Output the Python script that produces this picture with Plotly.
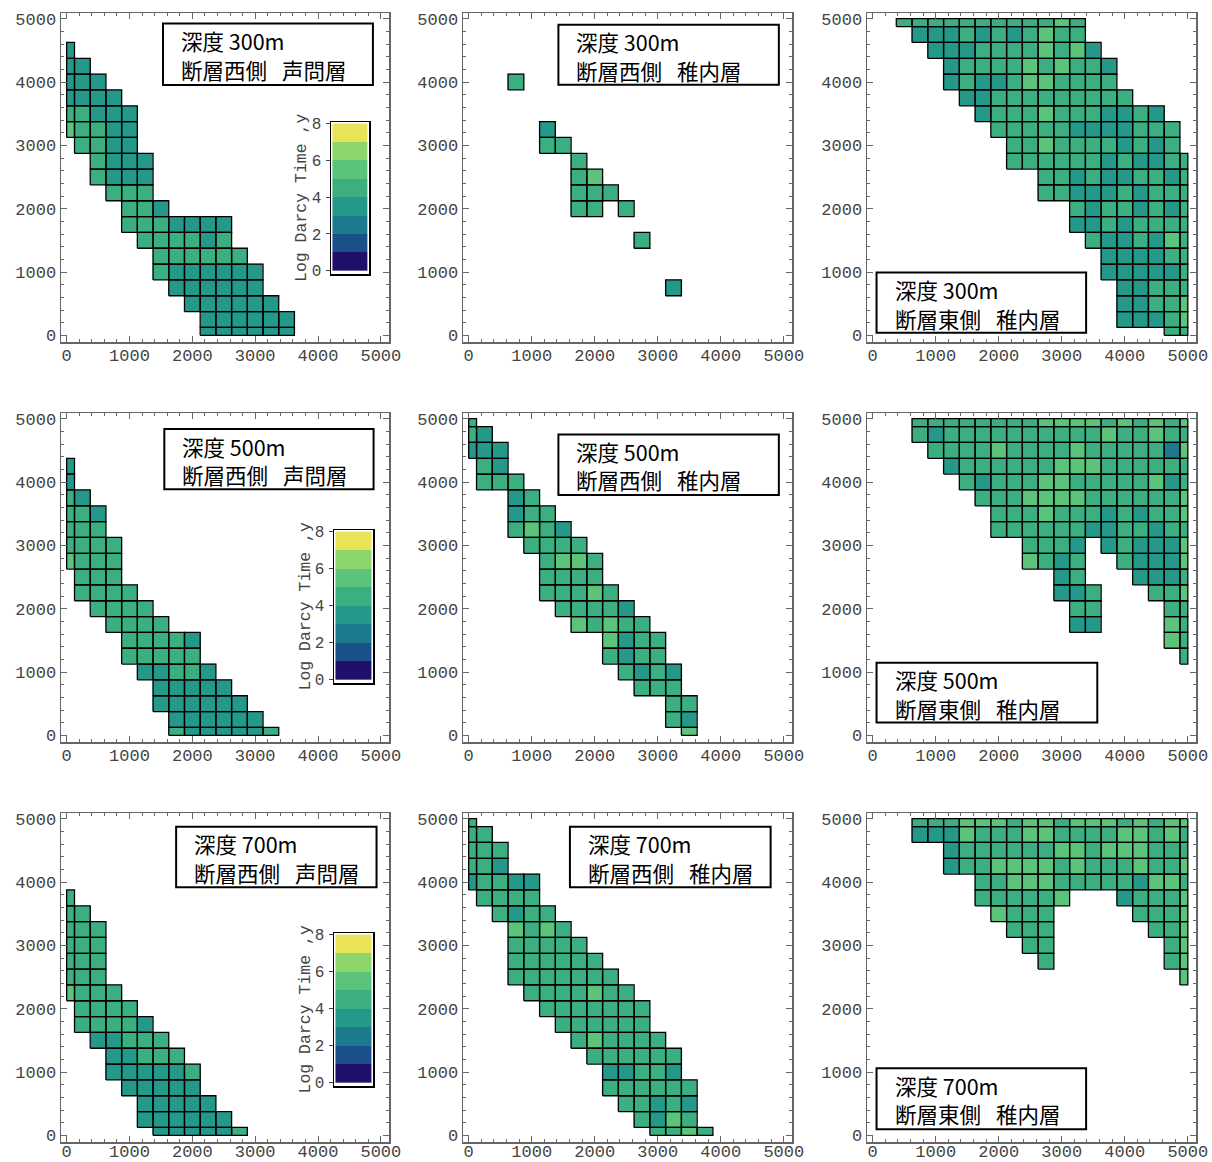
import plotly.graph_objects as go

W, H = 1212, 1162

# ------------------------------------------------------------------ data
row_depths = ["300m", "500m", "700m"]
col_sides = ["断層西側", "断層西側", "断層東側"]
col_formations = ["声問層", "稚内層", "稚内層"]

# cell centres of the 250 m grid (m), used for both x and y
cell_centers = [0, 250, 500, 750, 1000, 1250, 1500, 1750, 2000, 2250, 2500,
                2750, 3000, 3250, 3500, 3750, 4000, 4250, 4500, 4750, 5000]
axis_ticks = [0, 1000, 2000, 3000, 4000, 5000]

# Log Darcy Time bands (y) and their colours
band_edges = [0, 1, 2, 3, 4, 5, 6, 7, 8]
band_colors = ["#21106b", "#1a4f8a", "#1c7a8c", "#24998a",
               "#3caf80", "#5bc47a", "#8dd66c", "#e9e457"]
colorbar_ticks = [0, 2, 4, 6, 8]

# grids: one string per row, top row (y=5000) first, one char per column (x=0..5000)
# digit = Log Darcy Time band ('.' = no cell)
grid_300_w_seimon = [
    "", "", "3", "33", "333", "3333", "44333", "54433", ".4433", "..4333",
    "..4333", "...444", "....443", "....4443333", ".....444434",
    "......444444", "......4333333", ".......333333", "........333333",
    ".........333333", ".........333333",
]
grid_300_w_wakkanai = [
    "", "", "", "", "...4", "", "", ".....3", ".....44", ".......4",
    ".......45", ".......444", ".......44.4", "", "...........4", "", "",
    ".............3", "", "", "",
]
grid_300_e_wakkanai = [
    "..444444444454", "...33343434544", "....33344445453", ".....34444545443",
    ".....34334554444", "......33444444444", ".......344454443343",
    "........444443333444", ".........44544443434", ".........444444343344",
    "...........4434334434", "...........4433343444", ".............43443434",
    ".............33434444", "..............4334354", "...............333344",
    "...............333334", "................33444", "................33445",
    "................33345", "...................44",
]
grid_500_w_seimon = [
    "", "", "", "3", "3", "43", "443", "444", "4444", "5444", ".444", ".4444",
    "..4444", "...4444", "....44443", "....44444", ".....33443", "......33333",
    "......333333", ".......333333", ".......4333334",
]
grid_500_w_wakkanai = [
    "4", "43", "333", ".43", ".444", "...34", "...344", "...4543", "....4444",
    ".....4554", ".....4444", ".....44454", "......44443", ".......54544",
    ".........5344", ".........4344", "..........4343", "...........444",
    ".............44", ".............43", "..............5",
]
grid_500_e_wakkanai = [
    "...444444445555454545", "...434444444444544544", "....44445444454444425",
    ".....3444444555444444", "......434445544444534", ".......44455554444445",
    "........4445444343445", "........4444443344344", "..........4443.343335",
    "..........5434..43335", "............34...3334", "............334...445",
    ".............44....44", ".............33....54", "...................54",
    "....................4", "", "", "", "", "",
]
grid_700_w_seimon = [
    "", "", "", "", "", "4", "44", "444", "444", "444", "444", "5444", ".4444",
    ".44443", "..33444", "...33444", "...333334", "....33333", ".....33333",
    ".....333333", "......333334",
]
grid_700_w_wakkanai = [
    "4", "44", "444", "443", "34433", ".4444", "..4344", "...5454", "...44444",
    "...444444", "...4444444", "....4444544", ".....4444444", "......444444",
    ".......454444", "........444444", ".........33443", ".........444444",
    "..........44343", "...........4354", "............4454",
]
grid_700_e_wakkanai = [
    "...444555455455545455", "...333544455444455454", ".....3444444554555444",
    ".....3445555454445445", ".......44555444443554", ".......444445...34445",
    "........5444.....4445", ".........444......445", "..........44.......45",
    "...........4.......45", "....................5", "", "", "", "", "", "",
    "", "", "", "",
]

grids = [grid_300_w_seimon, grid_300_w_wakkanai, grid_300_e_wakkanai,
         grid_500_w_seimon, grid_500_w_wakkanai, grid_500_e_wakkanai,
         grid_700_w_seimon, grid_700_w_wakkanai, grid_700_e_wakkanai]

# ------------------------------------------------------------------ layout constants (page pixels)
col_px = [(61, 389), (463, 792), (867, 1196)]
row_px = [(13, 342), (413, 742), (813, 1142)]
x_range = [-90, 5130]
y_range = [-105, 5090]
label_standoff = [-3, -3, -7]

# legend boxes in axis-domain fractions (x0, x1, y0, y1)
box_dom = [
    (0.311, 0.951, 0.781, 0.968), (0.290, 0.960, 0.782, 0.964), (0.029, 0.666, 0.028, 0.211),
    (0.315, 0.953, 0.768, 0.951), (0.290, 0.960, 0.751, 0.935), (0.029, 0.700, 0.059, 0.241),
    (0.351, 0.962, 0.774, 0.958), (0.325, 0.935, 0.774, 0.958), (0.029, 0.666, 0.039, 0.224),
]
# colour-bar frames (page pixels): x0, x1, y0, y1
cbar_px = [(331, 369, 122, 274), (334, 373, 530, 683), (334, 373, 933, 1086)]

MONO = "Liberation Mono, Courier New, monospace"
TICK_FONT = dict(family=MONO, size=17, color="#444")
CJK = "Noto Sans CJK JP"


def fx(p):
    return p / W


def fy(p):
    return 1 - p / H


# ------------------------------------------------------------------ helpers
lo, hi = cell_centers[0], cell_centers[-1]
edges = [lo] + [(a + b) / 2 for a, b in zip(cell_centers[:-1], cell_centers[1:])] + [hi]
n = len(cell_centers)

colorscale = []
for i, c in enumerate(band_colors):
    colorscale.append([i / len(band_colors), c])
    colorscale.append([(i + 1) / len(band_colors), c])


def parse(rows):
    z = []
    for s in reversed(rows):
        s = s.ljust(n, ".")
        z.append([None if ch == "." else int(ch) + 0.5 for ch in s])
    return z


fig = go.Figure()
layout = dict(width=W, height=H, margin=dict(l=0, r=0, t=0, b=0),
              paper_bgcolor="white", plot_bgcolor="white", showlegend=False,
              template="none", shapes=[], annotations=[])

for k, rows in enumerate(grids):
    r, c = divmod(k, 3)
    ax = "" if k == 0 else str(k + 1)
    xa, ya = "x" + ax, "y" + ax
    z = parse(rows)
    fig.add_trace(go.Heatmap(z=z, x=edges, y=edges, zmin=band_edges[0], zmax=band_edges[-1],
                             colorscale=colorscale, showscale=False, hoverinfo="skip",
                             xaxis=xa, yaxis=ya))
    xs, ys = [], []
    for j, row in enumerate(z):
        for i, v in enumerate(row):
            if v is None:
                continue
            x0, x1, y0, y1 = edges[i], edges[i + 1], edges[j], edges[j + 1]
            xs += [x0, x1, x1, x0, x0, None]
            ys += [y0, y0, y1, y1, y0, None]
    fig.add_trace(go.Scatter(x=xs, y=ys, mode="lines", line=dict(color="black", width=1.3),
                             hoverinfo="skip", xaxis=xa, yaxis=ya))

    common = dict(showgrid=False, zeroline=False, showline=True, linecolor="#666", linewidth=1.5,
                  mirror="allticks", ticks="inside", ticklen=6, tickwidth=1, tickcolor="#666",
                  tickvals=axis_ticks, ticktext=[str(t) for t in axis_ticks], tickfont=TICK_FONT,
                  minor=dict(ticks="inside", ticklen=3, dtick=200, tickcolor="#666"),
                  automargin=False, fixedrange=True)
    layout["xaxis" + ax] = dict(common, range=x_range, anchor=ya,
                                ticklabelstandoff=label_standoff[r],
                                domain=[fx(col_px[c][0]), fx(col_px[c][1])])
    layout["yaxis" + ax] = dict(common, range=y_range, anchor=xa,
                                domain=[fy(row_px[r][1]), fy(row_px[r][0])])

    bx0, bx1, by0, by1 = box_dom[k]
    layout["shapes"].append(dict(type="rect", xref=xa + " domain", yref=ya + " domain",
                                 x0=bx0, x1=bx1, y0=by0, y1=by1,
                                 line=dict(color="black", width=2), fillcolor="white"))
    pw = col_px[c][1] - col_px[c][0]
    ph = row_px[r][1] - row_px[r][0]
    lines = [f"深度 {row_depths[r]}", f"{col_sides[c]}\u2002\u2009{col_formations[c]}"]
    for txt, off in zip(lines, [16.5, 45.0]):
        layout["annotations"].append(dict(
            xref=xa + " domain", yref=ya + " domain", x=bx0 + 17 / pw, y=by1 - off / ph,
            xanchor="left", yanchor="middle", align="left", showarrow=False,
            height=26, borderpad=0,
            text=txt, font=dict(family=CJK, size=21.5, color="black")))

# ------------------------------------------------------------------ colour bars (column 1)
band_mid = [(a + b) / 2 for a, b in zip(band_edges[:-1], band_edges[1:])]
for m, (px0, px1, py0, py1) in enumerate(cbar_px):
    idx = 10 + m
    xa, ya = f"x{idx}", f"y{idx}"
    fig.add_trace(go.Heatmap(z=[[v] for v in band_mid], x=[0, 1], y=band_edges,
                             zmin=band_edges[0], zmax=band_edges[-1], colorscale=colorscale,
                             showscale=False, hoverinfo="skip", xaxis=xa, yaxis=ya))
    layout[f"xaxis{idx}"] = dict(domain=[fx(px0), fx(px1)], range=[-0.04, 1.04], anchor=ya,
                                 showticklabels=False, ticks="", showgrid=False, zeroline=False,
                                 showline=True, mirror=True, linecolor="black", linewidth=1.5,
                                 automargin=False, fixedrange=True)
    layout[f"yaxis{idx}"] = dict(domain=[fy(py1), fy(py0)], range=[-0.18, 8.09], anchor=xa,
                                 tickvals=colorbar_ticks, ticks="outside", ticklen=4,
                                 tickcolor="#444", tickfont=dict(family=MONO, size=16, color="#444"),
                                 ticklabelstandoff=1,
                                 showgrid=False, zeroline=False, showline=True, mirror=True,
                                 linecolor="black", linewidth=1.5, automargin=False,
                                 fixedrange=True)
    layout["annotations"].append(dict(
        xref="paper", yref="paper", x=fx(px0 - 29), y=fy((py0 + py1) / 2),
        xanchor="center", yanchor="middle", textangle=-90, showarrow=False,
        text="Log Darcy Time ,y", font=dict(family=MONO, size=16.5, color="#444")))

fig.update_layout(**layout)
fig.write_html("out.html", config={"displayModeBar": False, "staticPlot": True},
               post_script="document.body.style.margin='0px';document.body.style.overflow='hidden';")
